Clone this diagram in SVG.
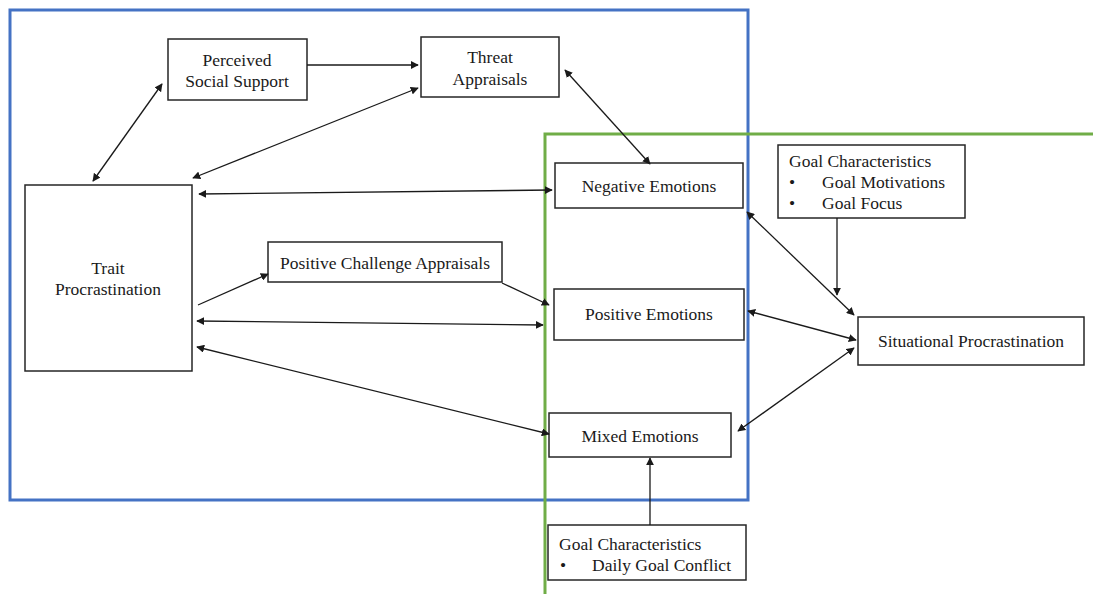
<svg xmlns="http://www.w3.org/2000/svg" width="1093" height="594" viewBox="0 0 1093 594">
<style>
.n{fill:#fff;stroke:#262626;stroke-width:1.5}
.t{font-family:'Liberation Serif','Times New Roman',Times,serif;font-size:17.5px;fill:#1a1a1a}
.c{text-anchor:middle}
.e{stroke:#1a1a1a;stroke-width:1.3;fill:none}
</style>
<defs>
<marker id="a" viewBox="0 0 10 10" refX="9" refY="5" markerWidth="8" markerHeight="8" orient="auto-start-reverse" markerUnits="userSpaceOnUse">
<path d="M0,0 L10,5 L0,10 z" fill="#1a1a1a"/>
</marker>
</defs>
<rect width="1093" height="594" fill="#fff"/>
<g id="frames">
<rect x="10" y="10" width="738" height="490" fill="none" stroke="#4472C4" stroke-width="3"/>
<path d="M1096,134 H545 V594" fill="none" stroke="#70AD47" stroke-width="3"/>
</g>
<g id="pss"><rect class="n" x="168" y="39" width="139" height="61"/><text class="t c" x="237" y="66">Perceived</text><text class="t c" x="237" y="87">Social Support</text></g>
<g id="threat"><rect class="n" x="421" y="37" width="138" height="60"/><text class="t c" x="490" y="63">Threat</text><text class="t c" x="490" y="85">Appraisals</text></g>
<g id="trait"><rect class="n" x="25" y="185" width="167" height="186"/><text class="t c" x="108" y="274">Trait</text><text class="t c" x="108" y="295">Procrastination</text></g>
<g id="pca"><rect class="n" x="268" y="242" width="234" height="40"/><text class="t c" x="385" y="269">Positive Challenge Appraisals</text></g>
<g id="neg"><rect class="n" x="555" y="163" width="188" height="45"/><text class="t c" x="649" y="192">Negative Emotions</text></g>
<g id="pos"><rect class="n" x="554" y="289" width="190" height="51"/><text class="t c" x="649" y="320">Positive Emotions</text></g>
<g id="mixed"><rect class="n" x="549" y="413" width="182" height="44"/><text class="t c" x="640" y="442">Mixed Emotions</text></g>
<g id="gc1"><rect class="n" x="778" y="145" width="187" height="73"/><text class="t" x="789" y="167">Goal Characteristics</text><text class="t" x="789" y="188">•</text><text class="t" x="822" y="188">Goal Motivations</text><text class="t" x="789" y="209">•</text><text class="t" x="822" y="209">Goal Focus</text></g>
<g id="sit"><rect class="n" x="858" y="317" width="226" height="48"/><text class="t c" x="971" y="347">Situational Procrastination</text></g>
<g id="gc2"><rect class="n" x="548" y="525" width="198" height="55"/><text class="t" x="559" y="550">Goal Characteristics</text><text class="t" x="560" y="571">•</text><text class="t" x="592" y="571">Daily Goal Conflict</text></g>
<g id="connectors">
<line class="e" x1="93" y1="181" x2="162" y2="84" marker-start="url(#a)" marker-end="url(#a)"/>
<line class="e" x1="307" y1="65" x2="418" y2="65" marker-end="url(#a)"/>
<line class="e" x1="193" y1="178" x2="418" y2="88" marker-start="url(#a)" marker-end="url(#a)"/>
<line class="e" x1="565" y1="70" x2="650" y2="164" marker-start="url(#a)" marker-end="url(#a)"/>
<line class="e" x1="199" y1="194" x2="552" y2="190" marker-start="url(#a)" marker-end="url(#a)"/>
<line class="e" x1="198" y1="305" x2="268" y2="274" marker-end="url(#a)"/>
<line class="e" x1="502" y1="283" x2="549" y2="305" marker-end="url(#a)"/>
<line class="e" x1="197" y1="321" x2="543" y2="325" marker-start="url(#a)" marker-end="url(#a)"/>
<line class="e" x1="197" y1="347" x2="549" y2="434" marker-start="url(#a)" marker-end="url(#a)"/>
<line class="e" x1="747" y1="212" x2="854" y2="315" marker-start="url(#a)" marker-end="url(#a)"/>
<line class="e" x1="837" y1="218" x2="837" y2="295" marker-end="url(#a)"/>
<line class="e" x1="748" y1="311" x2="856" y2="340" marker-start="url(#a)" marker-end="url(#a)"/>
<line class="e" x1="738" y1="431" x2="854" y2="348" marker-start="url(#a)" marker-end="url(#a)"/>
<line class="e" x1="650" y1="525" x2="650" y2="458" marker-end="url(#a)"/>
</g>
</svg>
